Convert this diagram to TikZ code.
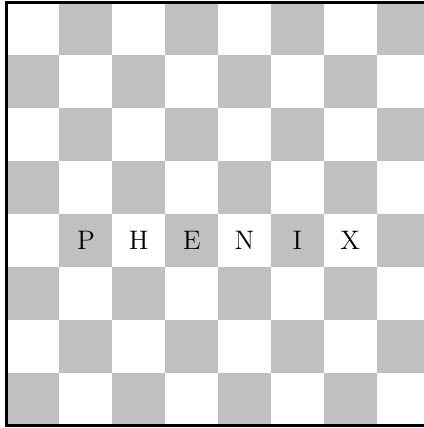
\documentclass[tikz,border=0pt]{standalone}
\definecolor{sqgray}{RGB}{192,192,192}
\tikzset{
  darksq/.style={fill=sqgray, draw=none},
  boardframe/.style={draw=black, line width=1.9pt},
  letter/.style={font=\Large, inner sep=0pt}
}
\begin{document}
\begin{tikzpicture}
\useasboundingbox (-0.125,-0.047) rectangle (7.89,8.047);
\fill[white] (-0.125,-0.047) rectangle (7.89,8.047);
\foreach \r in {0,...,7}{
  \foreach \c in {0,...,7}{
    \pgfmathtruncatemacro{\s}{mod(\r+\c,2)}
    \ifnum\s=1
      \fill[darksq] (\c,7-\r) rectangle ++(1,1);
    \fi
  }
}
\draw[boardframe] (0,0) rectangle (8,8);
\node[letter] (p) at (1.5,3.5) {P};
\node[letter] (h) at (2.5,3.5) {H};
\node[letter] (e) at (3.5,3.5) {E};
\node[letter] (n) at (4.5,3.5) {N};
\node[letter] (i) at (5.5,3.5) {I};
\node[letter] (x) at (6.5,3.5) {X};
\end{tikzpicture}
\end{document}
